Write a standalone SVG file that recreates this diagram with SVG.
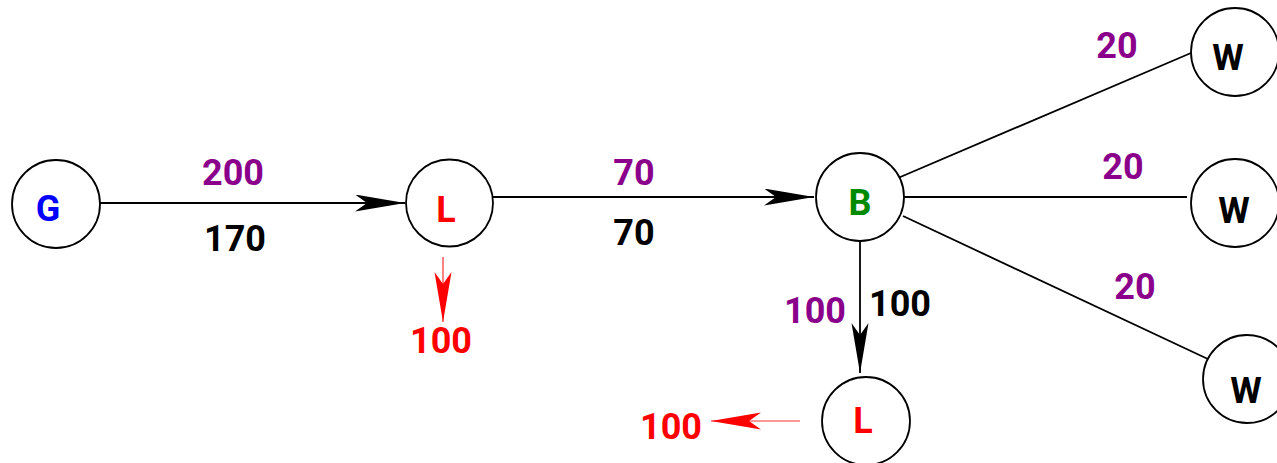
<svg xmlns="http://www.w3.org/2000/svg" width="1277" height="463" viewBox="0 0 1277 463">
  <style>
    .node { fill: #ffffff; stroke: #000000; stroke-width: 1.8; }
    .lbl { font-family: Roboto, "Liberation Sans", sans-serif; font-weight: bold; font-size: 36px; text-anchor: middle; }
    .edge { stroke: #000000; stroke-width: 1.8; fill: none; }
    .flow { stroke: #ff3030; stroke-width: 1.2; fill: none; }
    .purple { fill: #8b008b; }
    .black { fill: #000000; }
    .red { fill: #ff0000; }
  </style>
  <defs>
    <marker id="arrow" markerUnits="userSpaceOnUse" markerWidth="52" markerHeight="20" refX="50" refY="8.5" orient="auto">
      <path d="M0,0 L50,8.5 L0,17 L12,8.5 z" fill="#000000"/>
    </marker>
    <marker id="arrowRed" markerUnits="userSpaceOnUse" markerWidth="52" markerHeight="20" refX="50" refY="8.5" orient="auto">
      <path d="M0,0 L50,8.5 L0,17 L12,8.5 z" fill="#ff0000"/>
    </marker>
  </defs>

  <!-- connectors -->
  <g id="connectors">
    <line class="edge" x1="100" y1="203" x2="405" y2="203" marker-end="url(#arrow)"/>
    <line class="edge" x1="493" y1="197" x2="814" y2="197" marker-end="url(#arrow)"/>
    <line class="edge" x1="860" y1="242" x2="860" y2="373" marker-end="url(#arrow)"/>
    <line class="edge" x1="898" y1="178" x2="1191" y2="53"/>
    <line class="edge" x1="904" y1="197" x2="1187" y2="197"/>
    <line class="edge" x1="903" y1="216" x2="1210" y2="360"/>
    <line class="flow" x1="443" y1="257" x2="443" y2="322" marker-end="url(#arrowRed)"/>
    <line class="flow" x1="800" y1="421" x2="711" y2="421" marker-end="url(#arrowRed)"/>

    <!-- edge labels -->
    <text class="lbl purple" x="233" y="185">200</text>
    <text class="lbl black" x="235" y="251">170</text>
    <text class="lbl purple" x="634" y="185">70</text>
    <text class="lbl black" x="634" y="245">70</text>
    <text class="lbl red" x="441" y="353">100</text>
    <text class="lbl purple" x="815" y="323">100</text>
    <text class="lbl black" x="900" y="316">100</text>
    <text class="lbl red" x="671" y="439">100</text>
    <text class="lbl purple" x="1117" y="58">20</text>
    <text class="lbl purple" x="1123" y="179">20</text>
    <text class="lbl purple" x="1135" y="299">20</text>
  </g>

  <!-- nodes -->
  <g id="node-g">
    <circle class="node" cx="56" cy="204" r="44"/>
    <text class="lbl" x="48" y="221" fill="#0000ff">G</text>
  </g>
  <g id="node-l1">
    <circle class="node" cx="449.5" cy="203" r="43.5"/>
    <text class="lbl red" x="446" y="222">L</text>
  </g>
  <g id="node-b">
    <circle class="node" cx="860" cy="197" r="44"/>
    <text class="lbl" x="860" y="215" fill="#008a00">B</text>
  </g>
  <g id="node-l2">
    <circle class="node" cx="866" cy="421" r="44"/>
    <text class="lbl red" x="863" y="433">L</text>
  </g>
  <g id="node-w1">
    <circle class="node" cx="1235" cy="52" r="44"/>
    <text class="lbl black" x="1228" y="70">W</text>
  </g>
  <g id="node-w2">
    <circle class="node" cx="1235" cy="203" r="44"/>
    <text class="lbl black" x="1234" y="223">W</text>
  </g>
  <g id="node-w3">
    <circle class="node" cx="1247" cy="379" r="44"/>
    <text class="lbl black" x="1246" y="403">W</text>
  </g>
</svg>
